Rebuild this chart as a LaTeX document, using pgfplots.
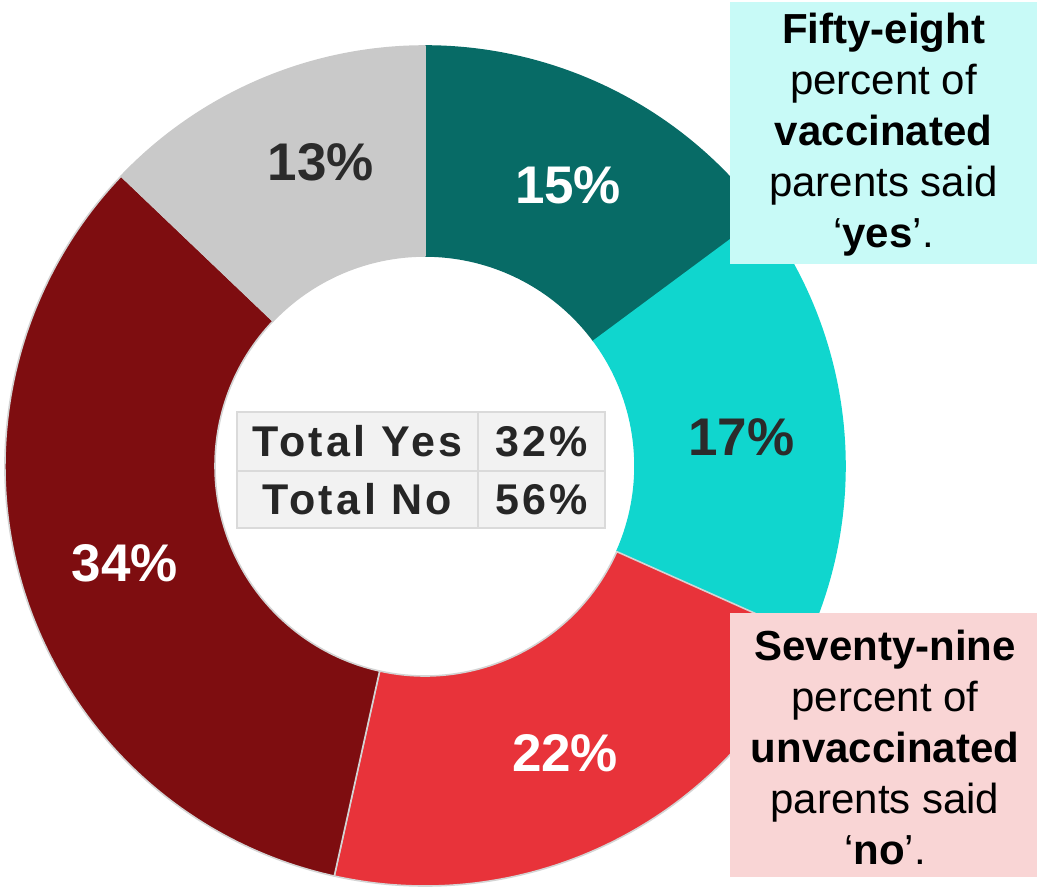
\documentclass[border=0pt]{standalone}
\usepackage{pgfplots}
\pgfplotsset{compat=1.18}
\usepackage{pgfplotstable}
\usepackage{fontspec}
\setmainfont{Liberation Sans}
\newfontfamily\tabfont[LetterSpace=8]{Liberation Sans}
\definecolor{cteal}{HTML}{076B66}
\definecolor{ccyan}{HTML}{10D6CE}
\definecolor{cred}{HTML}{E8333A}
\definecolor{cdred}{HTML}{7E0D10}
\definecolor{cgray}{HTML}{C9C9C9}
\definecolor{cdark}{HTML}{2B2B2B}
\definecolor{cedge}{HTML}{D4D4D4}
\definecolor{boxcyan}{HTML}{C8FAF7}
\definecolor{boxpink}{HTML}{F9D5D5}
\definecolor{tabfill}{HTML}{F2F2F2}
\definecolor{tabline}{HTML}{DADADA}
\definecolor{tabtext}{HTML}{262626}

% slice values (percent), fill colour, label colour, edge colour, label offsets
\pgfplotstableread{
value fill txt edge dx dy
15 cteal white cteal 0 -3
17 ccyan cdark ccyan 0 -6
22 cred white cedge -3 -3
34 cdred white cedge 4 -5
13 cgray cdark cgray 21 11
}\slices

\begin{document}
\begin{tikzpicture}
\begin{axis}[
  at={(0,0)}, anchor=south west,
  x=0.5pt, y=0.5pt,
  xmin=0, xmax=1038, ymin=0, ymax=889,
  enlargelimits=false, hide axis, clip=false,
]
\addplot[draw=none, forget plot] coordinates {(0,0) (1038,889)};
\pgfplotsextra{%
  \def\tot{0}%
  \pgfplotsforeachungrouped \i in {0,...,4}{%
    \pgfplotstablegetelem{\i}{value}\of\slices
    \pgfmathsetmacro\tot{\tot+\pgfplotsretval}%
  }%
  \def\cur{90}%
  \pgfplotsforeachungrouped \i in {0,...,4}{%
    \pgfplotstablegetelem{\i}{value}\of\slices \let\v\pgfplotsretval
    \pgfplotstablegetelem{\i}{fill}\of\slices \let\fc\pgfplotsretval
    \pgfplotstablegetelem{\i}{txt}\of\slices \let\tc\pgfplotsretval
    \pgfplotstablegetelem{\i}{edge}\of\slices \let\ec\pgfplotsretval
    \pgfplotstablegetelem{\i}{dx}\of\slices \let\ldx\pgfplotsretval
    \pgfplotstablegetelem{\i}{dy}\of\slices \let\ldy\pgfplotsretval
    \pgfmathsetmacro\nxt{\cur-360*\v/\tot}%
    \pgfmathsetmacro\midang{(\cur+\nxt)/2}%
    \filldraw[fill=\fc, draw=\ec, line width=0.8pt, line join=round]
      (axis cs:{425+420*cos(\cur)},{423+420*sin(\cur)})
      arc[start angle=\cur, end angle=\nxt, radius=210pt]
      -- (axis cs:{425+210*cos(\nxt)},{423+210*sin(\nxt)})
      arc[start angle=\nxt, end angle=\cur, radius=105pt] -- cycle;
    \node[text=\tc, font=\fontsize{26.5}{32}\selectfont\bfseries]
      at (axis cs:{425+318*cos(\midang)+\ldx},{423+318*sin(\midang)+\ldy}) {\v\%};
    \global\let\cur\nxt
  }%
  \fill[tabfill] (axis cs:237,477) rectangle (axis cs:605,361);
  \draw[tabline, line width=0.8pt] (axis cs:237,477) rectangle (axis cs:605,361)
    (axis cs:237,418) -- (axis cs:605,418)
    (axis cs:478,477) -- (axis cs:478,361);
  \node[text=tabtext, font=\tabfont\fontsize{21.5}{25}\selectfont\bfseries] at (axis cs:357.5,447.5) {Total Yes};
  \node[text=tabtext, font=\tabfont\fontsize{21.5}{25}\selectfont\bfseries] at (axis cs:357.5,389.5) {Total No};
  \node[text=tabtext, font=\tabfont\fontsize{21.5}{25}\selectfont\bfseries] at (axis cs:541.5,447.5) {32\%};
  \node[text=tabtext, font=\tabfont\fontsize{21.5}{25}\selectfont\bfseries] at (axis cs:541.5,389.5) {56\%};
  \fill[boxcyan] (axis cs:730,887) rectangle (axis cs:1037,625);
  \node[align=center, font=\fontsize{21}{25.5}\selectfont, text=black]
    at (axis cs:883.5,754) {\textbf{Fifty-eight}\\percent of\\\textbf{vaccinated}\\parents said\\‘\textbf{yes}’.};
  \fill[boxpink] (axis cs:730,276) rectangle (axis cs:1037,12);
  \node[align=center, font=\fontsize{21}{25.5}\selectfont, text=black]
    at (axis cs:885,142) {\textbf{Seventy-nine}\\percent of\\\textbf{unvaccinated}\\parents said\\‘\textbf{no}’.};
}
\end{axis}
\pgfresetboundingbox
\path (0,0) rectangle (519pt,444.5pt);
\end{tikzpicture}
\end{document}
